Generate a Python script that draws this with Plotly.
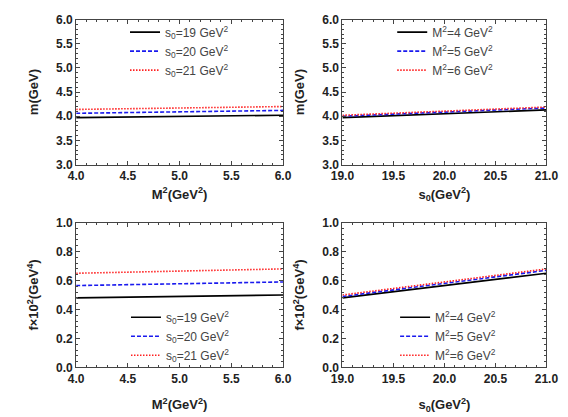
import plotly.graph_objects as go

# ---- data ----
M2_vals = [4.0, 5.0, 6.0]
s0_vals = [19.0, 20.0, 21.0]

m_vs_M2_s19 = [3.97, 4.00, 4.02]
m_vs_M2_s20 = [4.06, 4.09, 4.12]
m_vs_M2_s21 = [4.14, 4.17, 4.20]

m_vs_s0_M4 = [3.97, 4.05, 4.13]
m_vs_s0_M5 = [4.00, 4.09, 4.17]
m_vs_s0_M6 = [4.02, 4.11, 4.19]

f_vs_M2_s19 = [0.48, 0.49, 0.50]
f_vs_M2_s20 = [0.565, 0.58, 0.59]
f_vs_M2_s21 = [0.65, 0.665, 0.68]

f_vs_s0_M4 = [0.48, 0.565, 0.65]
f_vs_s0_M5 = [0.49, 0.58, 0.67]
f_vs_s0_M6 = [0.50, 0.59, 0.68]

s0_labels = ["s<sub>0</sub>=19 GeV<sup>2</sup>", "s<sub>0</sub>=20 GeV<sup>2</sup>", "s<sub>0</sub>=21 GeV<sup>2</sup>"]
M2_labels = ["M<sup>2</sup>=4 GeV<sup>2</sup>", "M<sup>2</sup>=5 GeV<sup>2</sup>", "M<sup>2</sup>=6 GeV<sup>2</sup>"]

colors = ["black", "#1a1aee", "#ff2020"]
dashes = ["solid", "4px,2px", "1.5px,1.5px"]

FONT = "Liberation Sans, Arial, sans-serif"
W, H = 568, 417

fig = go.Figure()

panels = [
    (M2_vals, [m_vs_M2_s19, m_vs_M2_s20, m_vs_M2_s21], s0_labels, "x", "y", "legend"),
    (s0_vals, [m_vs_s0_M4, m_vs_s0_M5, m_vs_s0_M6], M2_labels, "x2", "y2", "legend2"),
    (M2_vals, [f_vs_M2_s19, f_vs_M2_s20, f_vs_M2_s21], s0_labels, "x3", "y3", "legend3"),
    (s0_vals, [f_vs_s0_M4, f_vs_s0_M5, f_vs_s0_M6], M2_labels, "x4", "y4", "legend4"),
]

for xs, series, labels, xa, ya, lg in panels:
    for ys, lab, c, d in zip(series, labels, colors, dashes):
        fig.add_trace(go.Scatter(x=xs, y=ys, mode="lines", name=lab,
                                 line=dict(color=c, dash=d, width=1.6),
                                 xaxis=xa, yaxis=ya, legend=lg))

def px_x(a, b):
    return [a / W, b / W]

def px_y(top, bottom):
    return [1 - bottom / H, 1 - top / H]

tickfont = dict(family=FONT, size=12, color="#222", weight="bold")
titlefont = dict(family=FONT, size=13, color="#222", weight="bold")

def xaxis(dom, rng, dtick, anchor, title, standoff):
    return dict(domain=dom, range=rng, dtick=dtick, tick0=rng[0], anchor=anchor,
                showgrid=False, zeroline=False, showline=True, linecolor="#444",
                linewidth=1, mirror="allticks", ticks="inside", ticklen=4,
                tickcolor="#444", tickformat=".1f", tickfont=tickfont,
                minor=dict(ticks="inside", ticklen=2, dtick=dtick / 5, tickcolor="#444"),
                title=dict(text=title, font=titlefont, standoff=standoff))

def yaxis(dom, rng, dtick, anchor, title):
    return dict(domain=dom, range=rng, dtick=dtick, tick0=rng[0], anchor=anchor,
                showgrid=False, zeroline=False, showline=True, linecolor="#444",
                linewidth=1, mirror="allticks", ticks="inside", ticklen=4,
                tickcolor="#444", tickformat=".1f", tickfont=tickfont,
                minor=dict(ticks="inside", ticklen=2, dtick=dtick / 5, tickcolor="#444"),
                title=dict(text=title, font=titlefont, standoff=14))

xl = px_x(67, 283)
xr = px_x(345, 558)
yt = px_y(13, 163)
yb = px_y(223, 373)

xt_M2 = "M<sup>2</sup>(GeV<sup>2</sup>)"
xt_s0 = "s<sub>0</sub>(GeV<sup>2</sup>)"
yt_m = "m(GeV)"
yt_f = "f×10<sup>2</sup>(GeV<sup>4</sup>)"

legfont = dict(family=FONT, size=12, color="#444")

def legend(xpx, ypx):
    return dict(x=xpx / W, y=1 - ypx / H, xanchor="left", yanchor="top",
                bgcolor="rgba(0,0,0,0)", font=legfont, tracegroupgap=0,
                itemwidth=30)

fig.update_layout(
    width=W, height=H, margin=dict(l=0, r=0, t=0, b=0),
    paper_bgcolor="white", plot_bgcolor="white",
    showlegend=True,
    xaxis=xaxis(xl, [4, 6], 0.5, "y", xt_M2, 7),
    yaxis=yaxis(yt, [3, 6], 0.5, "x", yt_m),
    xaxis2=xaxis(xr, [19, 21], 0.5, "y2", xt_s0, 7),
    yaxis2=yaxis(yt, [3, 6], 0.5, "x2", yt_m),
    xaxis3=xaxis(xl, [4, 6], 0.5, "y3", xt_M2, 15),
    yaxis3=yaxis(yb, [0, 1], 0.2, "x3", yt_f),
    xaxis4=xaxis(xr, [19, 21], 0.5, "y4", xt_s0, 15),
    yaxis4=yaxis(yb, [0, 1], 0.2, "x4", yt_f),
    legend=legend(118, 11),
    legend2=legend(397, 11),
    legend3=legend(119, 306),
    legend4=legend(400, 306),
)

fig.write_html("out.html")
